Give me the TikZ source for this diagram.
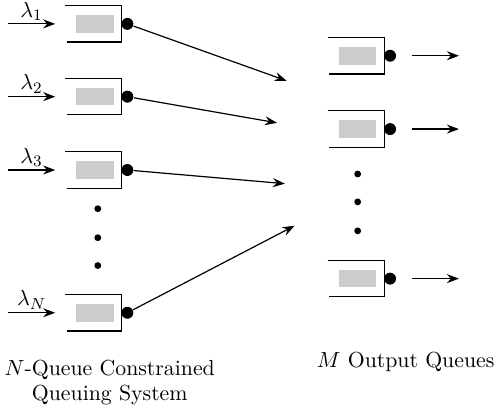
\documentclass[tikz,border=0pt]{standalone}
\usepackage{tikz}
\usetikzlibrary{arrows.meta}

\tikzset{
  slot/.style={rectangle,fill=black!20,minimum width=0.66cm,minimum height=0.31cm,inner sep=0pt},
  srv/.style={circle,fill=black,minimum size=0.21cm,inner sep=0pt},
  dot/.style={circle,fill=black,minimum size=0.12cm,inner sep=0pt}
}

\begin{document}
\begin{tikzpicture}[>={Stealth[length=6pt,width=4.5pt,inset=2pt]},line width=0.6pt,font=\fontsize{10.9}{12.5}\selectfont]

      \useasboundingbox (0,0) rectangle (8.74,-7.19);

      % input queues
      \foreach \i/\y/\l in {1/-0.42/1, 2/-1.70/2, 3/-2.99/3, 4/-5.50/N}{
        \node[slot] (q\i) at (1.67,\y){};
        \draw ([xshift=-0.53cm,yshift=0.32cm]q\i.center) -| ([xshift=0.47cm,yshift=-0.32cm]q\i.center) -- ([xshift=-0.50cm,yshift=-0.32cm]q\i.center);
        \node[srv] (s\i) at ([xshift=0.57cm]q\i.center){};
        \coordinate (in\i) at (0.14,\y);
        \draw[->] (in\i) -- ([xshift=-0.70cm]q\i.center) node[midway,above,inner sep=1.5pt]{$\lambda_{\l}$};
      }

      % output queues
      \foreach \j/\y in {1/-0.98, 2/-2.27, 3/-4.90}{
        \node[slot] (o\j) at (6.29,\y){};
        \draw ([xshift=-0.53cm,yshift=0.32cm]o\j.center) -| ([xshift=0.47cm,yshift=-0.32cm]o\j.center) -- ([xshift=-0.50cm,yshift=-0.32cm]o\j.center);
        \node[srv] (t\j) at ([xshift=0.57cm]o\j.center){};
        \coordinate (out\j) at (8.07,\y);
        \draw[->] ([xshift=0.95cm]o\j.center) -- (out\j);
      }

      \node[dot] (d1) at (1.72,-3.67){};
      \node[dot] (d2) at (1.72,-4.18){};
      \node[dot] (d3) at (1.72,-4.67){};
      \node[dot] (e1) at (6.29,-3.06){};
      \node[dot] (e2) at (6.29,-3.55){};
      \node[dot] (e3) at (6.29,-4.06){};

      \coordinate (a1) at (5.04,-1.42);
      \coordinate (a2) at (4.87,-2.16);
      \coordinate (a3) at (5.01,-3.23);
      \coordinate (a4) at (5.18,-3.97);

      \draw[->] (s1) -- (a1);
      \draw[->] (s2) -- (a2);
      \draw[->] (s3) -- (a3);
      \draw[->] (s4) -- (a4);

      \node[align=center] (lab1) at (1.93,-6.72){$N$-Queue Constrained\\Queuing System};
      \node[anchor=east,inner xsep=1pt] (lab2) at (8.74,-6.37){$M$ Output Queues};

    \end{tikzpicture}
\end{document}
